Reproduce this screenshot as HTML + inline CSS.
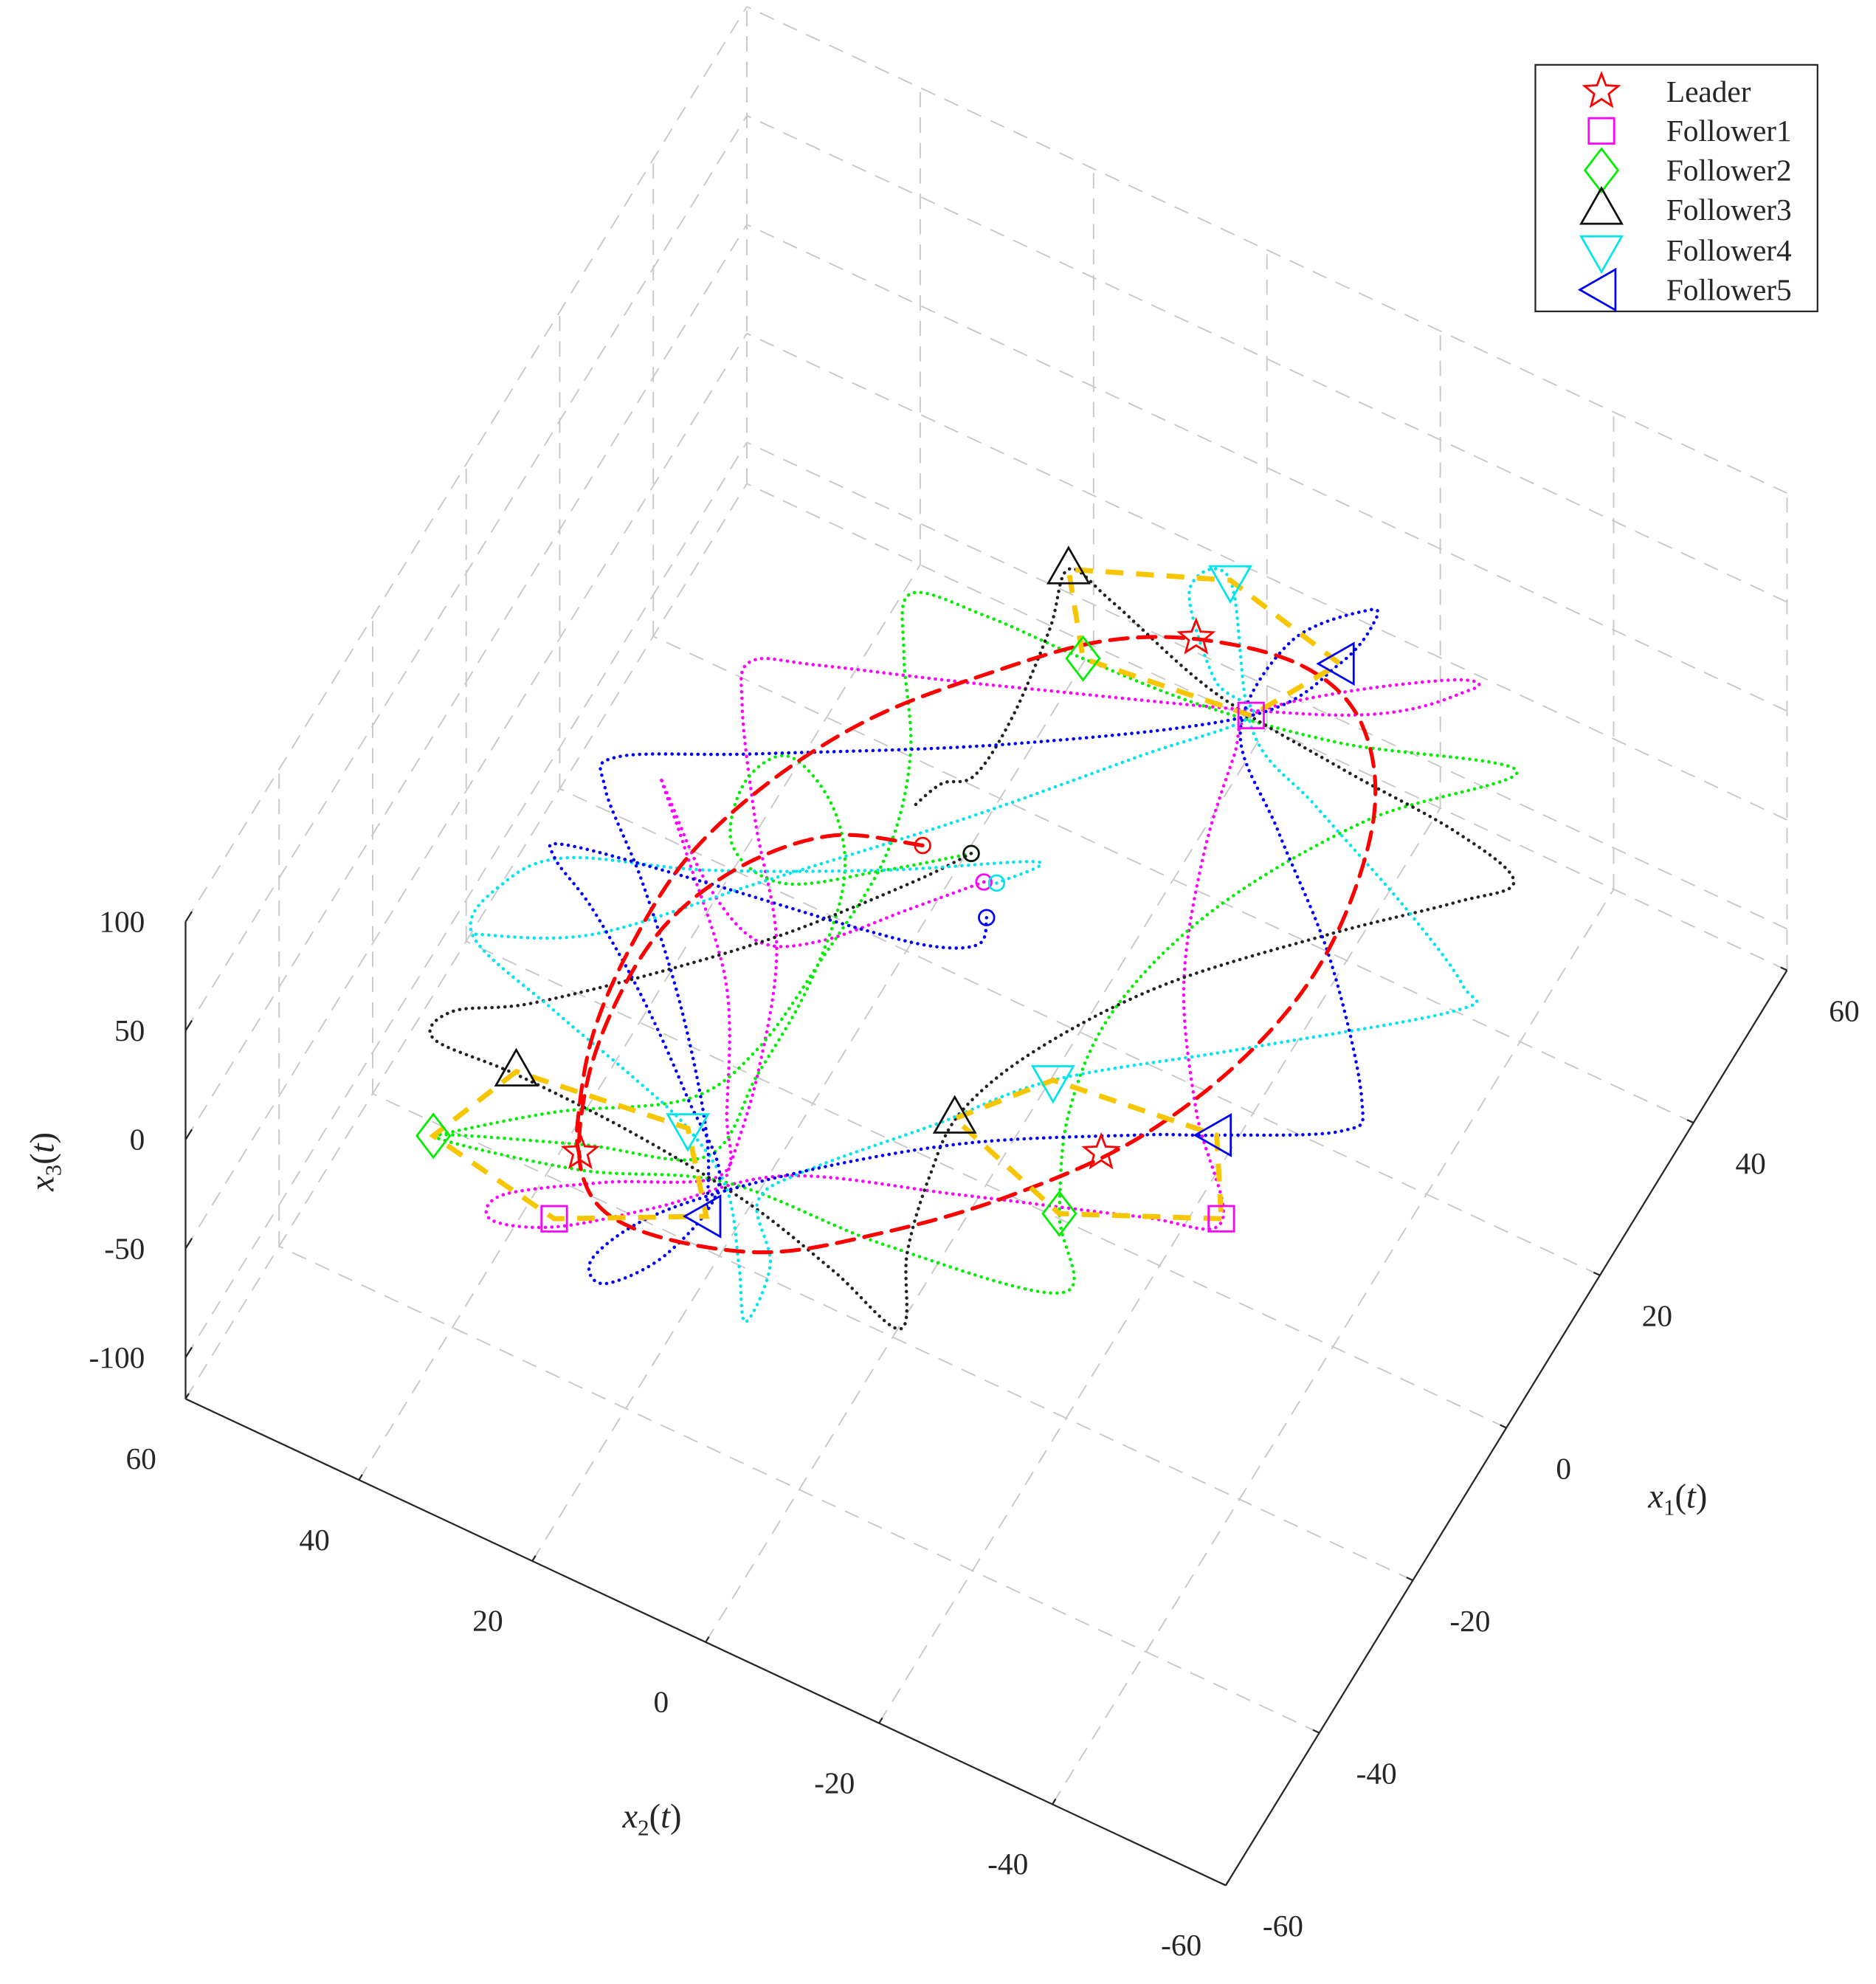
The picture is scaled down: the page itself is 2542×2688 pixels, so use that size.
<!DOCTYPE html>
<html><head><meta charset="utf-8"><style>
html,body{margin:0;padding:0;background:#fff;}
svg{display:block;}
text{font-family:"Liberation Serif",serif;fill:#262626;}
</style></head><body>
<svg id="chart" xmlns="http://www.w3.org/2000/svg" width="2542" height="2688" viewBox="0 0 1476 1561" preserveAspectRatio="none">
<g id="grid"></g>
<g id="axes"></g>
<g id="series"></g>
<g id="markers"></g>
<g>
<rect x="1208" y="51" width="222" height="194" fill="#fff" stroke="#262626" stroke-width="1.3"/>
<g id="legend"></g>
</g>
<text x="1311" y="80" font-size="24">Leader</text>
<text x="1311" y="111" font-size="24">Follower1</text>
<text x="1311" y="142" font-size="24">Follower2</text>
<text x="1311" y="173" font-size="24">Follower3</text>
<text x="1311" y="205" font-size="24">Follower4</text>
<text x="1311" y="236" font-size="24">Follower5</text>
<text transform="translate(42,914) rotate(-90)" text-anchor="middle" font-size="27" font-style="italic">x<tspan font-size="18" dy="6" font-style="normal">3</tspan><tspan dy="-6" font-style="normal">(</tspan>t<tspan font-style="normal">)</tspan></text>
<text x="513" y="1438" text-anchor="middle" font-size="27" font-style="italic">x<tspan font-size="18" dy="6" font-style="normal">2</tspan><tspan dy="-6" font-style="normal">(</tspan>t<tspan font-style="normal">)</tspan></text>
<text x="1320" y="1186" text-anchor="middle" font-size="27" font-style="italic">x<tspan font-size="18" dy="6" font-style="normal">1</tspan><tspan dy="-6" font-style="normal">(</tspan>t<tspan font-style="normal">)</tspan></text>
</svg>
<script>
// axis limits & ticks
const x1Ticks = [-60,-40,-20,0,20,40,60];
const x2Ticks = [-60,-40,-20,0,20,40,60];
const zTicks = [-100,-50,0,50,100];
const x1Lim = [-60,60];
const x2Lim = [-60,60];
const zLim = [-119,100];
const trajZ = 0;

// Leader trajectory
const leaderX1 = [5.1,1.9,-5.3,-14.8,-25.0,-35.5,-44.8,-47.7,-44.2,-36.1,-26.3,-14.3,0.1,14.2,29.2,38.4,41.5,39.4,34.4,25.6,15.6,4.3,-7.3,-19.2,-30.1,-39.8,-43.0];
const leaderX2 = [10.1,18.6,25.0,28.7,29.0,27.0,22.4,15.3,2.5,-7.8,-17.1,-25.4,-30.7,-32.0,-28.9,-22.6,-14.3,-3.7,5.3,13.8,21.7,27.3,30.5,30.7,29.2,25.7,23.7];
// Follower1 (magenta)
const f1X1 = [4.3,-1.9,-9.5,-12.5,-9.0,-1.9,-0.9,-7.3,-18.5,-31.4,-38.2,-44.4,-50.5,-53.6,-51.3,-44.5,-35.2,-28.7,-22.4,-19.0,-9.0,3.3,17.2,29.0,34.0,40.7,47.4,47.0,38.4,25.5,18.6,15.7,10.8,-0.3,-12.2,-26.1,-37.9];
const f1X2 = [2.6,7.7,14.0,19.7,27.4,35.7,36.9,30.5,20.0,13.0,10.1,20.1,28.5,28.2,22.1,14.1,4.4,-12.5,-29.7,-37.4,-29.1,-21.0,-15.7,-12.9,-12.2,-19.1,-28.6,-30.4,-20.4,10.8,29.1,35.6,34.0,26.5,17.6,12.3,9.5];
// Follower2 (green)
const f2X1 = [6.6,0.8,-5.4,-3.9,3.1,7.8,4.7,-2.5,-14.6,-26.1,-36.9,-41.7,-47.8,-44.3,-38.6,-37.4,-33.8,-25.9,-15.1,-2.6,12.6,28.9,41.0,35.5,32.7,31.8,31.5,30.2,23.7,13.6,2.1,-11.4,-23.5,-31.9,-39.6,-47.8];
const f2X2 = [5.3,12.1,20.5,27.2,29.5,27.0,20.2,15.1,12.6,12.3,12.4,24.4,38.0,23.0,9.2,-8.5,-27.0,-22.4,-17.7,-16.1,-19.6,-28.4,-39.1,-21.9,-7.3,6.0,17.0,25.0,22.3,16.1,12.8,12.9,13.7,17.2,28.4,38.0];
// Follower3 (black)
const f3X1 = [6.6,0.7,-10.6,-20.6,-29.8,-34.2,-37.9,-37.6,-38.0,-39.6,-42.5,-45.2,-37.1,-28.2,-20.2,-10.2,2.4,15.5,24.7,29.6,31.9,32.9,34.6,38.9,40.2,33.2,22.3,14.7,12.3,8.5];
const f3X2 = [5.3,9.1,17.7,27.0,36.7,43.1,43.3,33.9,20.6,6.4,-5.3,-14.5,-10.9,-8.7,-8.0,-11.4,-19.2,-31.3,-40.8,-44.9,-37.0,-23.3,-7.7,6.3,12.2,10.6,9.1,9.3,11.8,13.1];
// Follower4 (cyan)
const f4X1 = [4.8,8.9,0.8,-7.7,-13.1,-18.7,-25.4,-29.3,-32.2,-34.9,-39.2,-46.4,-51.9,-44.9,-39.0,-33.4,-22.7,-12.6,-0.5,13.7,16.6,21.7,27.8,32.5,46.8,43.8,35.9,34.0,24.5,9.5,-6.6,-19.7,-25.4];
const f4X2 = [1.4,-1.1,12.1,28.1,41.3,45.6,45.6,34.0,23.7,15.6,8.8,3.5,-0.2,0.7,5.3,2.5,-6.4,-14.5,-29.6,-46.8,-46.0,-36.7,-23.1,-13.2,-2.9,0.2,-7.0,-12.2,-4.4,8.1,22.8,34.8,45.6];
// Follower5 (blue)
const f5X1 = [0.8,-2.2,-4.6,-6.4,-9.0,-11.8,-13.7,-17.1,-23.8,-31.9,-38.9,-48.5,-54.7,-52.7,-45.2,-35.2,-23.5,-14.1,-10.4,-4.0,0.2,12.9,23.4,31.9,43.4,50.3,49.3,43.5,34.0,19.7,6.6,-0.4,-4.2,-12.1,-23.2,-34.9,-43.0];
const f5X2 = [0.4,-0.4,3.4,11.3,27.4,42.0,42.4,36.2,26.8,17.2,9.8,10.5,14.5,17.0,13.7,4.4,-9.7,-25.2,-32.2,-43.2,-43.2,-32.7,-21.1,-12.1,-11.7,-16.9,-18.1,-17.3,-12.2,7.7,29.9,42.3,41.7,33.1,22.6,13.4,9.1];

// Formation snapshot markers (3 snapshots)
const leaderMkX1 = [39.3,-42.5,-17.7];
const leaderMkX2 = [-3.0,23.9,-22.8];
const f1MkX1 = [34.0,-50.5,-18.7];
const f1MkX2 = [-12.2,22.6,-37.2];
const f2MkX1 = [31.8,-47.8,-25.9];
const f2MkX2 = [6.0,38.0,-22.4];
const f3MkX1 = [40.2,-37.3,-21.2];
const f3MkX2 = [12.2,34.1,-7.8];
const f4MkX1 = [46.8,-34.9,-12.6];
const f4MkX2 = [-2.9,15.6,-14.5];
const f5MkX1 = [43.5,-43.0,-10.4];
const f5MkX2 = [-17.3,9.1,-32.2];

// projection (view geometry)
const OX=776, OY=932, E1=[3.68,-6.0], E2=[-6.82,-3.19], EZ=1.714;
function P(a,b,z){return [OX+E1[0]*a+E2[0]*b, OY+E1[1]*a+E2[1]*b-EZ*(z-zLim[0])];}
const NS="http://www.w3.org/2000/svg";
function mk(parent,tag,attrs){const e=document.createElementNS(NS,tag);for(const k in attrs)e.setAttribute(k,attrs[k]);parent.appendChild(e);return e;}
const grid=document.getElementById('grid'), axes=document.getElementById('axes'), series=document.getElementById('series'), markers=document.getElementById('markers');
const gs={stroke:'#c8c8c8','stroke-width':1.1,'stroke-dasharray':'12 8',fill:'none'};
function gl(p,q,name){const l=mk(grid,'line',Object.assign({x1:p[0],y1:p[1],x2:q[0],y2:q[1]},gs));

}
x1Ticks.forEach(t=>gl(P(t,x2Lim[0],zLim[0]),P(t,x2Lim[1],zLim[0]),'floor-grid-x1'));
x2Ticks.forEach(t=>gl(P(x1Lim[0],t,zLim[0]),P(x1Lim[1],t,zLim[0]),'floor-grid-x2'));
x1Ticks.forEach(t=>gl(P(t,x2Lim[1],zLim[0]),P(t,x2Lim[1],zLim[1]),'wall-grid-x1'));
zTicks.forEach(t=>gl(P(x1Lim[0],x2Lim[1],t),P(x1Lim[1],x2Lim[1],t),'wall-grid-z'));
x2Ticks.forEach(t=>gl(P(x1Lim[1],t,zLim[0]),P(x1Lim[1],t,zLim[1]),'wall-grid-x2'));
zTicks.forEach(t=>gl(P(x1Lim[1],x2Lim[0],t),P(x1Lim[1],x2Lim[1],t),'wall-grid-z'));
gl(P(x1Lim[1],x2Lim[1],zLim[0]),P(x1Lim[1],x2Lim[1],zLim[1]),'back-edge');
function al(p,q,name){const l=mk(axes,'line',{x1:p[0],y1:p[1],x2:q[0],y2:q[1],stroke:'#262626','stroke-width':1.3});

}
al(P(x1Lim[0],x2Lim[1],zLim[0]),P(x1Lim[0],x2Lim[0],zLim[0]),'x2-axis-line');
al(P(x1Lim[0],x2Lim[0],zLim[0]),P(x1Lim[1],x2Lim[0],zLim[0]),'x1-axis-line');
al(P(x1Lim[0],x2Lim[1],zLim[0]),P(x1Lim[0],x2Lim[1],zLim[1]),'z-axis-line');
function tl(x,y,s,anchor,name){const t=mk(axes,'text',{x:x,y:y,'font-size':24,'text-anchor':anchor});t.textContent=s;

}
x2Ticks.forEach(t=>{const p=P(x1Lim[0],t,zLim[0]);al(p,[p[0]+2.6,p[1]-4.2],'x2-tick');tl(p[0]-35,p[1]+55,String(t),'middle','x2-tick-label');});
x1Ticks.forEach(t=>{const p=P(t,x2Lim[0],zLim[0]);al(p,[p[0]-5,p[1]-2.3],'x1-tick');tl(p[0]+45,p[1]+40,String(t),'middle','x1-tick-label');});
zTicks.forEach(t=>{const p=P(x1Lim[0],x2Lim[1],t);al(p,[p[0]+5,p[1]-8],'z-tick');tl(p[0]-32,p[1]+8,String(t),'end','z-tick-label');});
// smooth path (Catmull-Rom)
function smoothD(a,b){
 const p=a.map((v,i)=>P(v,b[i],trajZ));
 let d='M'+p[0][0].toFixed(1)+' '+p[0][1].toFixed(1);
 for(let i=0;i<p.length-1;i++){
  const p0=p[Math.max(0,i-1)],p1=p[i],p2=p[i+1],p3=p[Math.min(p.length-1,i+2)];
  const c1=[p1[0]+(p2[0]-p0[0])/6,p1[1]+(p2[1]-p0[1])/6];
  const c2=[p2[0]-(p3[0]-p1[0])/6,p2[1]-(p3[1]-p1[1])/6];
  d+='C'+c1[0].toFixed(1)+' '+c1[1].toFixed(1)+' '+c2[0].toFixed(1)+' '+c2[1].toFixed(1)+' '+p2[0].toFixed(1)+' '+p2[1].toFixed(1);
 }
 return d;
}
function path(a,b,color,dash,w,name){
const e=mk(series,'path',{d:smoothD(a,b),fill:'none',stroke:color,'stroke-width':w,'stroke-dasharray':dash,'stroke-linejoin':'round','stroke-linecap':'round'});

}
path(f1X1,f1X2,'#ff00ff','0.1 5',2.6,'follower1-trajectory');
path(f2X1,f2X2,'#00ee00','0.1 5',2.6,'follower2-trajectory');
path(f3X1,f3X2,'#222','0.1 5',2.6,'follower3-trajectory');
path(f4X1,f4X2,'#00e5ee','0.1 5',2.6,'follower4-trajectory');
path(f5X1,f5X2,'#0000ff','0.1 5',2.6,'follower5-trajectory');
path(leaderX1,leaderX2,'#ff0000','14 8',3,'leader-trajectory');
for(let k=0;k<3;k++){
 const pts=[[f1MkX1[k],f1MkX2[k]],[f2MkX1[k],f2MkX2[k]],[f3MkX1[k],f3MkX2[k]],[f4MkX1[k],f4MkX2[k]],[f5MkX1[k],f5MkX2[k]]];
 const ord=k===1?[2,1,0,4,3]:[0,1,2,3,4];
 const d=ord.map((o,i)=>{const p=P(pts[o][0],pts[o][1],trajZ);return (i?'L':'M')+p[0].toFixed(1)+' '+p[1].toFixed(1);}).join('')+'Z';
 const e=mk(series,'path',{d:d,fill:'none',stroke:'#f7c600','stroke-width':4,'stroke-dasharray':'14 10'});
 
 
}
function shape(g,type,x,y,color){
 let e;
 if(type==='star'){let s='';for(let i=0;i<10;i++){const r=i%2?6:14;const an=-Math.PI/2+i*Math.PI/5;s+=(x+r*Math.cos(an)).toFixed(1)+','+(y+r*Math.sin(an)).toFixed(1)+' ';}e=mk(g,'polygon',{points:s});}
 else if(type==='square')e=mk(g,'rect',{x:x-10,y:y-10,width:20,height:20});
 else if(type==='diamond')e=mk(g,'polygon',{points:`${x},${y-17} ${x+13},${y} ${x},${y+17} ${x-13},${y}`});
 else if(type==='up')e=mk(g,'polygon',{points:`${x},${y-17} ${x+16},${y+11} ${x-16},${y+11}`});
 else if(type==='down')e=mk(g,'polygon',{points:`${x-16},${y-11} ${x+16},${y-11} ${x},${y+17}`});
 else if(type==='left')e=mk(g,'polygon',{points:`${x-17},${y} ${x+11},${y-16} ${x+11},${y+16}`});
 else e=mk(g,'circle',{cx:x,cy:y,r:6});
 e.setAttribute('fill','none');e.setAttribute('stroke',color);e.setAttribute('stroke-width',1.6);
 return e;
}
const groups=[[leaderMkX1,leaderMkX2,'star','#ff0000','leader'],[f1MkX1,f1MkX2,'square','#ff00ff','follower1'],[f2MkX1,f2MkX2,'diamond','#00ee00','follower2'],[f3MkX1,f3MkX2,'up','#111','follower3'],[f4MkX1,f4MkX2,'down','#00e5ee','follower4'],[f5MkX1,f5MkX2,'left','#0000ff','follower5']];
groups.forEach(g=>{g[0].forEach((v,i)=>{const p=P(v,g[1][i],trajZ);const e=shape(markers,g[2],p[0],p[1],g[3]);
 
 });});
const starts=[[leaderX1,leaderX2,'#ff0000'],[f1X1,f1X2,'#ff00ff'],[f4X1,f4X2,'#00e5ee'],[f5X1,f5X2,'#0000ff'],[f2X1,f2X2,'#00ee00'],[f3X1,f3X2,'#111']];
starts.forEach(s=>{const p=P(s[0][0],s[1][0],trajZ);const e=shape(markers,'circle',p[0],p[1],s[2]);
 
 });
const lg=document.getElementById('legend');
const legY=[72,103,134,165,197,228];
groups.forEach((g,i)=>{const e=shape(lg,g[2],1260,legY[i],g[3]);
 
 });
</script>
</body></html>
